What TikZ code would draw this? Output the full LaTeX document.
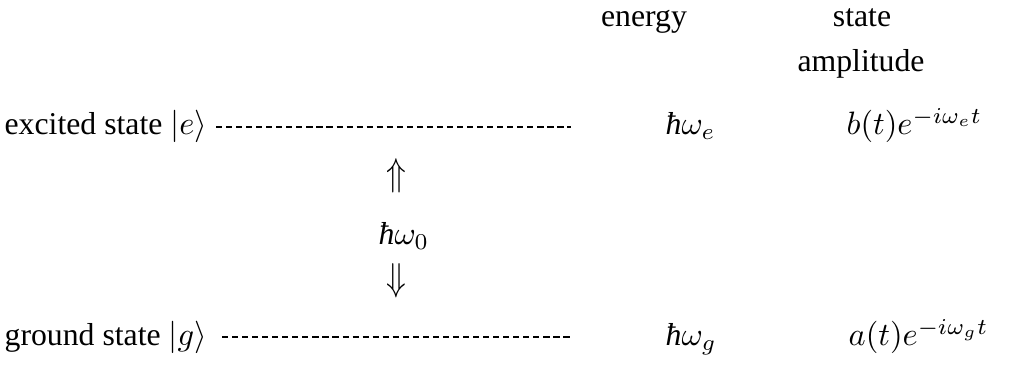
\documentclass[tikz,border=0pt]{standalone}
\usepackage{graphicx}
\usepackage{fontspec}
\setmainfont{Liberation Serif}
\newcommand{\hb}{\mbox{\itshape ħ}}
\begin{document}
\begin{tikzpicture}[x=0.3087pt,y=-0.3087pt,
  lbl/.style={inner sep=0pt,font=\fontsize{9.8}{12}\selectfont},
  level/.style={line width=0.35pt,dash pattern=on 1.9pt off 1.2pt}]
\useasboundingbox (0,0) rectangle (1016,369);
\node[lbl,anchor=base] (en) at (644,27) {energy};
\node[lbl,anchor=base] (st) at (862,27) {state};
\node[lbl,anchor=base] (am) at (861,72) {amplitude};
\node[lbl,anchor=base west] (ex) at (4,135) {excited state $|e\rangle$};
\node[lbl,anchor=base west] (gr) at (4,346) {ground state $|g\rangle$};
\coordinate (e1) at (216,127);
\coordinate (e2) at (571,127);
\coordinate (g1) at (222,337);
\coordinate (g2) at (571,337);
\draw[level] (e1) -- (e2);
\draw[level] (g1) -- (g2);
\node[lbl,anchor=base west] (we) at (665,135) {$\hb\omega_e$};
\node[lbl,anchor=base west] (wg) at (665,346) {$\hb\omega_g$};
\node[lbl,anchor=base west] (be) at (846,135) {$b(t)e^{-i\omega_e t}$};
\node[lbl,anchor=base west] (ag) at (848,346) {$a(t)e^{-i\omega_g t}$};
\node[lbl,anchor=center] (up) at (396,176) {\scalebox{1}[1.2]{$\Uparrow$}};
\node[lbl,anchor=base west] (w0) at (378,245) {$\hb\omega_0$};
\node[lbl,anchor=center] (dn) at (396,281) {\scalebox{1}[1.2]{$\Downarrow$}};
\end{tikzpicture}
\end{document}
